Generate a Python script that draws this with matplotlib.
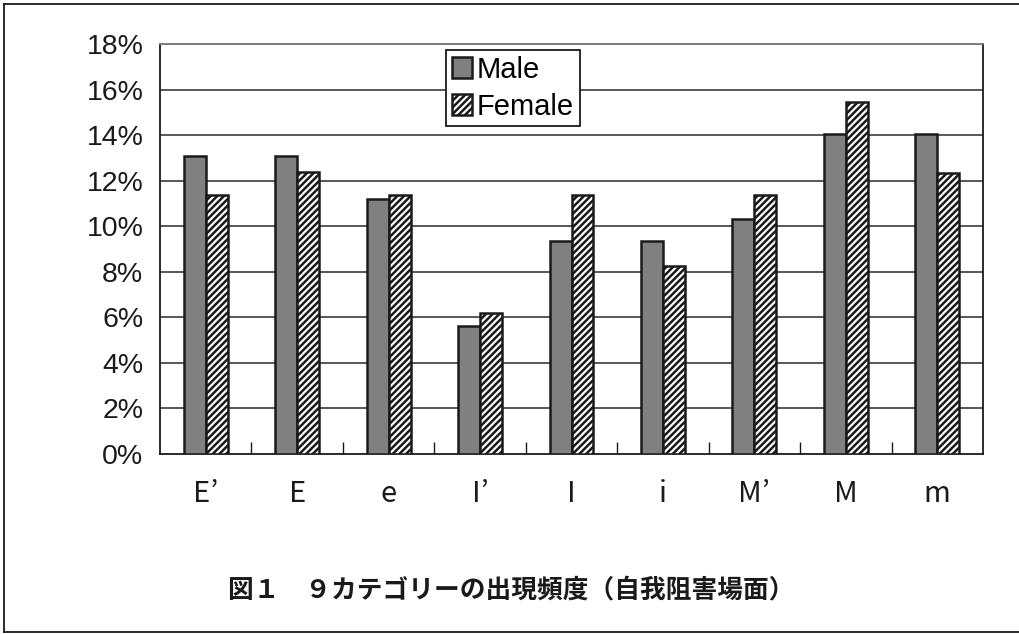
import matplotlib
matplotlib.use("Agg")
import matplotlib.pyplot as plt
import numpy as np
from matplotlib.lines import Line2D

categories = ["E’", "E", "e", "I’", "I", "i", "M’", "M", "m"]
male = [13.1, 13.1, 11.2, 5.6, 9.35, 9.35, 10.3, 14.05, 14.05]
female = [11.35, 12.4, 11.35, 6.2, 11.35, 8.25, 11.35, 15.45, 12.35]
yticks = [0, 2, 4, 6, 8, 10, 12, 14, 16, 18]
caption = "図１　９カテゴリーの出現頻度（自我阻害場面）"

plt.rcParams['hatch.linewidth'] = 1.8
plt.rcParams['font.family'] = ['Liberation Sans', 'Noto Sans CJK JP', 'DejaVu Sans']

fig = plt.figure(figsize=(10.19, 6.34), dpi=100)
ax = fig.add_axes([160/1019, 1-454/634, (983-160)/1019, (454-44)/634])

x = np.arange(len(categories))
w = 0.24
ax.bar(x - w/2, male, width=w, color='#808080', edgecolor='#1a1a1a', linewidth=1.8, zorder=3, label='Male')
ax.bar(x + w/2, female, width=w, color='white', edgecolor='#1a1a1a', linewidth=1.8, hatch='/////', zorder=3, label='Female')

ax.set_xlim(-0.5, len(categories) - 0.5)
ax.set_ylim(0, 18)
ax.set_yticks(yticks)
ax.set_yticklabels([f"{v}%" for v in yticks], fontsize=20.5, color='#1a1a1a')
ax.tick_params(axis='y', length=0, pad=12)
ax.set_xticks(x)
ax.set_xticklabels(categories, fontsize=21, color='#1a1a1a',
                   family=['Noto Sans CJK JP', 'DejaVu Sans'])
ax.tick_params(axis='x', length=0, pad=18)
ax.set_xticks(np.arange(0.5, len(categories) - 0.5, 1), minor=True)
ax.tick_params(axis='x', which='minor', length=9, direction='in', width=1, color='#1a1a1a')

for yv in yticks[1:]:
    ax.axhline(yv, color='#2a2a2a' if yv < 18 else '#777777', lw=1.1, zorder=1)

for s in ['left', 'bottom', 'right']:
    ax.spines[s].set_color('#1a1a1a')
    ax.spines[s].set_linewidth(1.3)
ax.spines['top'].set_color('#777777')
ax.spines['top'].set_linewidth(1.3)

leg = ax.legend(loc='upper left', bbox_to_anchor=((446-160)/823, (454-50)/410),
                fontsize=21, frameon=True, fancybox=False, framealpha=1,
                edgecolor='#1a1a1a', borderpad=0.2, handlelength=0.7, handleheight=0.7,
                handletextpad=0.15, labelspacing=0.3, borderaxespad=0)
leg.get_frame().set_linewidth(1.3)
leg.set_zorder(5)

fig.text(511/1019, 1-590/634, caption, ha='center', va='center', fontsize=18.5,
         fontweight='bold', family=['Noto Sans CJK JP', 'DejaVu Sans'], color='#1a1a1a')

# outer frame
fig.add_artist(Line2D([4/1019, 4/1019], [1-4/634, 1-632/634], color='#1a1a1a', lw=1.3, transform=fig.transFigure))
fig.add_artist(Line2D([4/1019, 1], [1-4/634, 1-4/634], color='#1a1a1a', lw=1.3, transform=fig.transFigure))
fig.add_artist(Line2D([4/1019, 1], [1-632/634, 1-632/634], color='#1a1a1a', lw=1.3, transform=fig.transFigure))

fig.savefig('out.png', dpi=100)
